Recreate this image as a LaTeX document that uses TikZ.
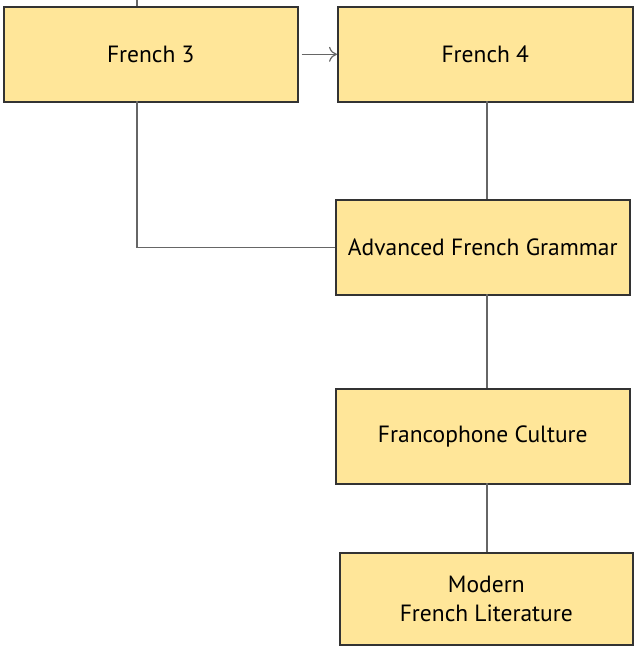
\documentclass[tikz,border=0pt]{standalone}
\usepackage{fontspec}
\setmainfont{PT Sans}
\usetikzlibrary{arrows.meta}
\definecolor{boxfill}{HTML}{FFE699}
\definecolor{boxedge}{HTML}{333333}
\definecolor{linkgray}{HTML}{666666}
\tikzset{
  course/.style={draw=boxedge, line width=1.6pt, fill=boxfill, anchor=north west,
    inner sep=0pt, align=center, font=\fontsize{23.5}{29}\selectfont},
  link/.style={draw=linkgray, line width=1.4pt},
}
\begin{document}
\begin{tikzpicture}[x=1pt,y=-1pt]
\useasboundingbox (0,0) rectangle (633,646);
% course boxes
\node[course, minimum width=294pt, minimum height=95pt] (f3) at (3,6) {French 3};
\node[course, minimum width=295pt, minimum height=95pt] (f4) at (337,6) {French 4};
\node[course, minimum width=294pt, minimum height=95pt] (agr) at (335,199) {Advanced French Grammar};
\node[course, minimum width=294pt, minimum height=95pt] (fc) at (335,388) {Francophone Culture};
\node[course, minimum width=293pt, minimum height=92pt] (mfl) at (339,552) {Modern\\French Literature};
% connectors
\coordinate (top) at (137,0);
\draw[link] (top) -- (137,6);
\draw[link] (137,101) |- (agr.west);
\draw[link, -{To[length=8pt,width=15pt,line width=1.2pt]}] ([xshift=3pt]f3.east) -- (f4.west);
\draw[link] (487,101) -- (487,199);
\draw[link] (487,294) -- (487,388);
\draw[link] (487,483) -- (487,552);
\end{tikzpicture}
\end{document}
